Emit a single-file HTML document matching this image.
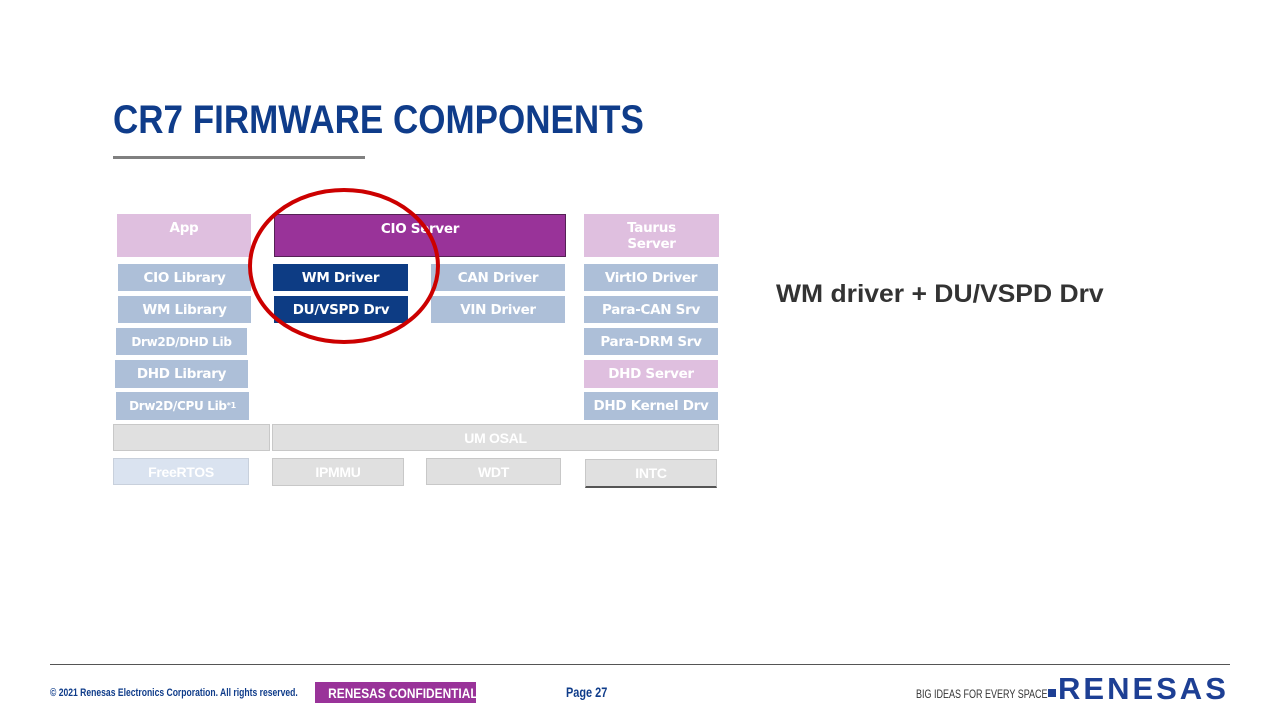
<!DOCTYPE html>
<html><head><meta charset="utf-8"><style>
body{margin:0;width:1280px;height:720px;background:#fff;position:relative;overflow:hidden;font-family:"Liberation Sans",sans-serif}
.b{position:absolute;box-sizing:border-box;color:#fff;font-family:"DejaVu Sans",sans-serif;font-weight:bold;font-size:13.5px;text-align:center;display:flex;align-items:center;justify-content:center;line-height:16px;letter-spacing:-0.3px}
.l{background:#adbfd8}.p{background:#dfbfdf;align-items:flex-start;padding-top:6px}.d{background:#0d3c84}
.g{background:#e0e0e0;border:1px solid #c8c8c8;font-family:"Liberation Sans",sans-serif;font-size:14px}
.t{position:absolute;white-space:nowrap}
</style></head><body>
<div class="t" style="left:113px;top:98px;font-size:40px;font-weight:bold;color:#0f3c8a;transform:scaleX(0.875);transform-origin:left top">CR7 FIRMWARE COMPONENTS</div>
<div style="position:absolute;left:113px;top:156px;width:252px;height:3px;background:#808080"></div>

<div class="b p" style="left:117px;top:214px;width:134px;height:43px">App</div>
<div class="b" style="left:274px;top:214px;width:292px;height:43px;background:#993399;border:1px solid #552255;align-items:flex-start;padding-top:6px">CIO Server</div>
<div class="b p" style="left:584px;top:214px;width:135px;height:43px">Taurus<br>Server</div>

<div class="b l" style="left:118px;top:264px;width:133px;height:27px">CIO Library</div>
<div class="b d" style="left:273px;top:264px;width:135px;height:27px">WM Driver</div>
<div class="b l" style="left:431px;top:264px;width:134px;height:27px">CAN Driver</div>
<div class="b l" style="left:584px;top:264px;width:134px;height:27px">VirtIO Driver</div>

<div class="b l" style="left:118px;top:296px;width:133px;height:27px">WM Library</div>
<div class="b d" style="left:274px;top:296px;width:134px;height:27px">DU/VSPD Drv</div>
<div class="b l" style="left:431px;top:296px;width:134px;height:27px">VIN Driver</div>
<div class="b l" style="left:584px;top:296px;width:134px;height:27px">Para-CAN Srv</div>

<div class="b l" style="left:116px;top:328px;width:131px;height:27px;font-size:12px">Drw2D/DHD Lib</div>
<div class="b l" style="left:584px;top:328px;width:134px;height:27px">Para-DRM Srv</div>

<div class="b l" style="left:115px;top:360px;width:133px;height:28px">DHD Library</div>
<div class="b" style="left:584px;top:360px;width:134px;height:28px;background:#dfbfdf">DHD Server</div>

<div class="b l" style="left:116px;top:392px;width:133px;height:28px;font-size:12px">Drw2D/CPU Lib<sup style="font-size:8px">*1</sup></div>
<div class="b l" style="left:584px;top:392px;width:134px;height:28px">DHD Kernel Drv</div>

<div class="b g" style="left:113px;top:424px;width:157px;height:27px"></div>
<div class="b g" style="left:272px;top:424px;width:447px;height:27px">UM OSAL</div>

<div class="b" style="left:113px;top:458px;width:136px;height:27px;background:#dae3f0;border:1px solid #c8d0dc;font-family:'Liberation Sans',sans-serif;font-size:14px">FreeRTOS</div>
<div class="b g" style="left:272px;top:458px;width:132px;height:28px">IPMMU</div>
<div class="b g" style="left:426px;top:458px;width:135px;height:27px">WDT</div>
<div class="b g" style="left:585px;top:459px;width:132px;height:29px;border-bottom:2px solid #555">INTC</div>

<svg style="position:absolute;left:0;top:0" width="1280" height="720">
<ellipse cx="344" cy="266" rx="94" ry="76" fill="none" stroke="#cc0000" stroke-width="4"/>
</svg>

<div class="t" style="left:776px;top:280px;font-size:25px;font-weight:bold;color:#333;transform:scaleX(1.06);transform-origin:left top">WM driver + DU/VSPD Drv</div>

<div style="position:absolute;left:50px;top:664px;width:1180px;height:1px;background:#555"></div>
<div class="t" style="left:50px;top:687px;font-size:11px;font-weight:bold;color:#0f3c8a;transform:scaleX(0.78);transform-origin:left top">© 2021 Renesas Electronics Corporation. All rights reserved.</div>
<div class="t" style="left:315px;top:682px;width:161px;height:21px;background:#993399;color:#fff;font-size:14px;font-weight:bold;text-align:center;line-height:22px"><span style="display:inline-block;transform:scaleX(0.85)">RENESAS CONFIDENTIAL</span></div>
<div class="t" style="left:566px;top:684px;font-size:14px;font-weight:bold;color:#0f3c8a;transform:scaleX(0.78);transform-origin:left top">Page 27</div>
<div class="t" style="left:916px;top:687px;font-size:12px;color:#333;transform:scaleX(0.75);transform-origin:left top">BIG IDEAS FOR EVERY SPACE</div>
<div style="position:absolute;left:1048px;top:689px;width:8px;height:8px;background:#1d3f94"></div>
<div class="t" style="left:1058px;top:671px;font-size:31px;font-weight:bold;color:#1d3f94;letter-spacing:3px">RENESAS</div>
</body></html>
